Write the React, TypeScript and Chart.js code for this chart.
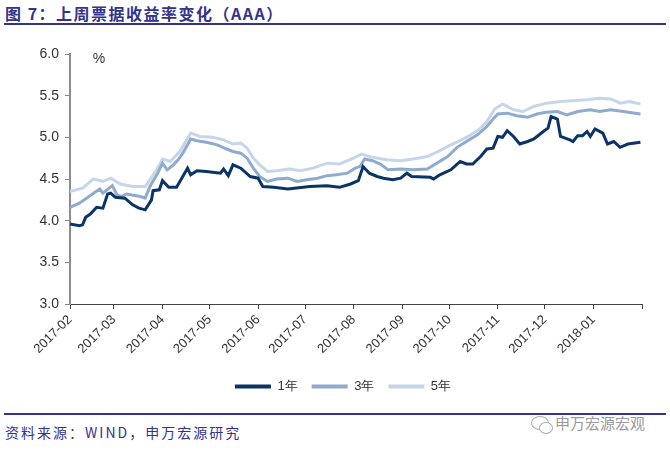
import React, { useEffect, useRef } from "react";
import { Chart, registerables } from "chart.js";

Chart.register(...registerables);

const START_DATE = "2017-02-01";
const monthLabels = [
  "2017-02", "2017-03", "2017-04", "2017-05", "2017-06", "2017-07",
  "2017-08", "2017-09", "2017-10", "2017-11", "2017-12", "2018-01", "2018-02",
];
const yTicks = [3.0, 3.5, 4.0, 4.5, 5.0, 5.5, 6.0];
const seriesNames = ["1年", "3年", "5年"];

// 1Y: days since 2017-02-01 and yields (%)
const oneYearDays = [0, 6, 8, 10, 13, 17, 21, 24, 26, 29, 35, 40, 44, 48, 52, 53, 57, 59, 63, 68, 75, 77, 81, 87, 96, 98, 101, 104, 109, 115, 120, 123, 130, 139, 153, 164, 172, 179, 184, 187, 191, 196, 200, 206, 211, 215, 218, 230, 232, 236, 243, 249, 253, 257, 262, 266, 270, 273, 276, 279, 283, 287, 292, 296, 298, 302, 305, 307, 311, 313, 319, 321, 324, 327, 330, 332, 335, 340, 343, 347, 351, 356, 364];
const oneYearValues = [3.96, 3.94, 3.95, 4.04, 4.08, 4.16, 4.15, 4.32, 4.33, 4.28, 4.27, 4.19, 4.15, 4.13, 4.25, 4.36, 4.37, 4.48, 4.4, 4.4, 4.63, 4.55, 4.6, 4.59, 4.57, 4.62, 4.54, 4.67, 4.63, 4.53, 4.51, 4.41, 4.4, 4.38, 4.41, 4.42, 4.4, 4.44, 4.48, 4.65, 4.57, 4.53, 4.51, 4.49, 4.51, 4.57, 4.53, 4.52, 4.5, 4.55, 4.61, 4.71, 4.68, 4.68, 4.77, 4.86, 4.87, 5.01, 5.0, 5.08, 5.01, 4.92, 4.95, 4.98, 5.01, 5.07, 5.11, 5.25, 5.22, 5.01, 4.97, 4.95, 5.02, 5.02, 5.07, 5.01, 5.1, 5.05, 4.92, 4.95, 4.88, 4.92, 4.94];

// 3Y
const threeYearDays = [0, 6, 15, 19, 21, 27, 30, 33, 36, 45, 48, 51, 56, 59, 62, 66, 69, 72, 77, 81, 87, 94, 100, 104, 109, 113, 117, 121, 126, 132, 139, 145, 151, 158, 164, 170, 177, 182, 185, 188, 193, 198, 203, 211, 219, 228, 234, 241, 247, 253, 260, 266, 270, 273, 279, 285, 292, 298, 304, 311, 317, 324, 332, 338, 345, 353, 364];
const threeYearValues = [4.16, 4.21, 4.33, 4.38, 4.33, 4.42, 4.31, 4.29, 4.32, 4.29, 4.27, 4.41, 4.57, 4.69, 4.61, 4.67, 4.73, 4.81, 4.98, 4.96, 4.94, 4.91, 4.86, 4.83, 4.81, 4.75, 4.63, 4.53, 4.47, 4.5, 4.51, 4.47, 4.49, 4.51, 4.54, 4.55, 4.57, 4.63, 4.65, 4.74, 4.72, 4.68, 4.61, 4.62, 4.61, 4.62, 4.69, 4.77, 4.88, 4.95, 5.03, 5.13, 5.22, 5.28, 5.29, 5.26, 5.24, 5.28, 5.3, 5.31, 5.27, 5.31, 5.33, 5.31, 5.33, 5.31, 5.28];

// 5Y
const fiveYearDays = [0, 8, 15, 21, 26, 32, 40, 48, 51, 56, 59, 64, 70, 77, 83, 91, 98, 104, 109, 113, 117, 121, 126, 132, 140, 147, 155, 164, 172, 181, 186, 193, 202, 211, 219, 228, 236, 243, 249, 255, 262, 266, 271, 276, 283, 289, 296, 304, 313, 321, 330, 338, 345, 351, 357, 364];
const fiveYearValues = [4.35, 4.39, 4.5, 4.47, 4.51, 4.44, 4.41, 4.41, 4.49, 4.63, 4.74, 4.71, 4.83, 5.05, 5.01, 5.0, 4.97, 4.92, 4.93, 4.87, 4.75, 4.67, 4.59, 4.6, 4.62, 4.6, 4.63, 4.69, 4.68, 4.75, 4.8, 4.76, 4.73, 4.72, 4.74, 4.77, 4.84, 4.91, 4.96, 5.02, 5.11, 5.19, 5.34, 5.4, 5.33, 5.31, 5.37, 5.41, 5.43, 5.44, 5.45, 5.47, 5.46, 5.41, 5.43, 5.4];

const seriesColors = ["#0b3466", "#8eaacd", "#c6d6ea"];

const DAY_MS = 86400000;
const startMs = Date.parse(START_DATE);
const monthOffsets = monthLabels.map((m) => Math.round((Date.parse(m + "-01") - startMs) / DAY_MS));

const toPoints = (days: number[], vals: number[]) => days.map((d, i) => ({ x: d, y: vals[i] }));

const percentPlugin = {
  id: "percentLabel",
  afterLayout(chart: any) {
    if (chart.legend) {
      chart.legend.left += 22;
      chart.legend.right += 22;
    }
  },
  afterDraw(chart: any) {
    const { ctx, chartArea } = chart;
    ctx.save();
    ctx.font = '14px "Liberation Sans", Arial, sans-serif';
    ctx.fillStyle = "#333";
    ctx.textAlign = "center";
    ctx.textBaseline = "middle";
    ctx.fillText("%", chartArea.left + 29, chartArea.top + 5);
    ctx.restore();
  },
};

export default function App() {
  const ref = useRef<HTMLCanvasElement | null>(null);

  useEffect(() => {
    document.body.style.margin = "0";
    const canvas = ref.current;
    if (!canvas) return;
    const chart = new Chart(canvas, {
      type: "line",
      data: {
        datasets: [
          { label: seriesNames[0], data: toPoints(oneYearDays, oneYearValues) },
          { label: seriesNames[1], data: toPoints(threeYearDays, threeYearValues) },
          { label: seriesNames[2], data: toPoints(fiveYearDays, fiveYearValues) },
        ].map((d, i) => ({
          ...d,
          borderColor: seriesColors[i],
          backgroundColor: seriesColors[i],
          borderWidth: 3,
          pointRadius: 0,
          tension: 0,
          fill: false,
        })),
      },
      options: {
        animation: false,
        responsive: false,
        devicePixelRatio: 1,
        layout: { padding: { left: 0, right: 28, top: 18, bottom: 0 } },
        plugins: {
          tooltip: { enabled: false },
          legend: {
            position: "bottom",
            labels: {
              boxWidth: 36,
              boxHeight: 4,
              padding: 14,
              color: "#333",
              font: { size: 13, family: '"Liberation Sans", Arial, sans-serif' },
              generateLabels: (c: any) =>
                c.data.datasets.map((ds: any, i: number) => ({
                  text: ds.label,
                  fillStyle: ds.borderColor,
                  strokeStyle: ds.borderColor,
                  lineWidth: 0,
                  hidden: false,
                  datasetIndex: i,
                  fontColor: "#333",
                })),
            },
          },
        },
        scales: {
          x: {
            type: "linear",
            min: monthOffsets[0],
            max: monthOffsets[monthOffsets.length - 1],
            afterBuildTicks: (scale: any) => {
              scale.ticks = monthOffsets.map((v) => ({ value: v }));
            },
            afterFit: (scale: any) => {
              scale.height = 62;
            },
            ticks: {
              autoSkip: false,
              maxRotation: 45,
              minRotation: 45,
              color: "#333",
              font: { size: 13, family: '"Liberation Sans", Arial, sans-serif' },
              callback: (v: any) => {
                const idx = monthOffsets.indexOf(Number(v));
                return idx >= 0 && idx < monthLabels.length - 1 ? monthLabels[idx] : "";
              },
            },
            grid: { display: true, drawOnChartArea: false, drawTicks: true, tickLength: 5, color: "#444" },
            border: { display: true, color: "#444", width: 1 },
          },
          y: {
            type: "linear",
            min: yTicks[0],
            max: yTicks[yTicks.length - 1],
            afterBuildTicks: (scale: any) => {
              scale.ticks = yTicks.map((v) => ({ value: v }));
            },
            afterFit: (scale: any) => {
              scale.width = 70;
            },
            ticks: {
              color: "#333",
              padding: 6,
              font: { size: 14, family: '"Liberation Sans", Arial, sans-serif' },
              callback: (v: any) => Number(v).toFixed(1),
            },
            grid: { display: true, drawOnChartArea: false, drawTicks: true, tickLength: 5, color: "#888" },
            border: { display: true, color: "#8c8c8c", width: 2 },
          },
        },
      },
      plugins: [percentPlugin],
    } as any);
    return () => chart.destroy();
  }, []);

  return (
    <div style={{ position: "relative", width: 670, height: 452, background: "#fff", overflow: "hidden" }}>
      <div
        style={{
          position: "absolute", left: 5, top: 3, fontSize: 16, fontWeight: "bold", letterSpacing: 1.5,
          color: "#33338a", fontFamily: '"Noto Sans CJK SC", "Liberation Sans", sans-serif', lineHeight: "20px",
        }}
      >
        图 7：上周票据收益率变化（AAA）
      </div>
      <div style={{ position: "absolute", left: 4, right: 4, top: 23, height: 2, background: "#33338a" }} />
      <canvas ref={ref} width={670} height={367} style={{ position: "absolute", left: 0, top: 36, width: 670, height: 367 }} />
      <div style={{ position: "absolute", left: 4, right: 4, top: 413, height: 2, background: "#33338a" }} />
      <div
        style={{
          position: "absolute", left: 5, top: 422, fontSize: 14, color: "#33338a", letterSpacing: 2,
          fontFamily: '"Noto Sans CJK SC", "Liberation Sans", sans-serif', lineHeight: "20px",
        }}
      >
        资料来源：WIND，申万宏源研究
      </div>
      <div
        style={{
          position: "absolute", left: 531, top: 416, width: 16, height: 12, borderRadius: "50%",
          border: "1px solid #aaa",
        }}
      />
      <div
        style={{
          position: "absolute", left: 539, top: 422, width: 12, height: 10, borderRadius: "50%",
          border: "1px solid #aaa", background: "#fff",
        }}
      />
      <div
        style={{
          position: "absolute", left: 555, top: 413, fontSize: 15, color: "#999",
          fontFamily: '"Noto Sans CJK SC", sans-serif', lineHeight: "20px",
        }}
      >
        申万宏源宏观
      </div>
    </div>
  );
}
